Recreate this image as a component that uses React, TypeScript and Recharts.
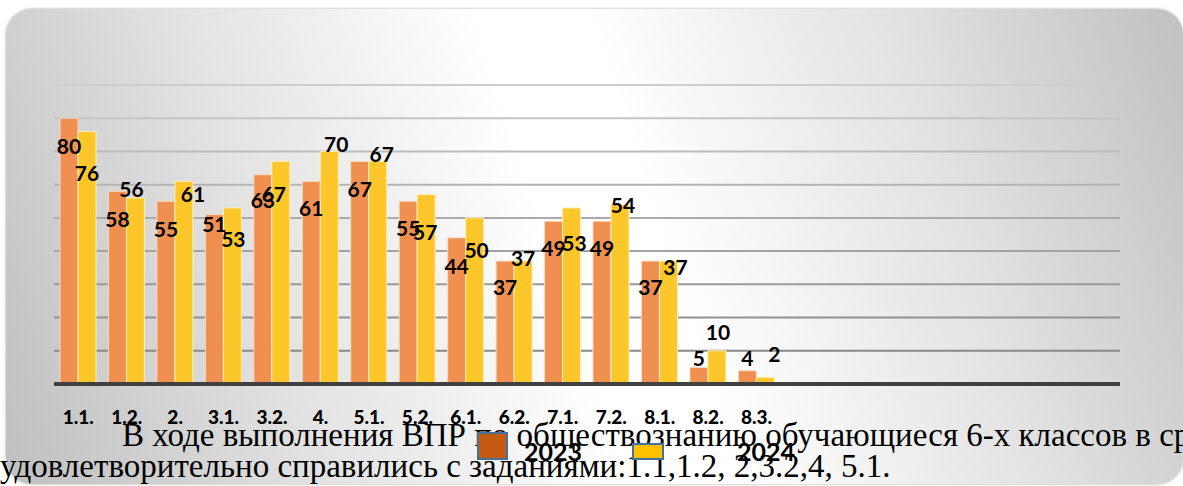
import { Bar, BarChart, CartesianGrid, LabelList, Legend, XAxis, YAxis } from 'recharts';

const tasks = ['1.1.', '1.2.', '2.', '3.1.', '3.2.', '4.', '5.1.', '5.2.', '6.1.', '6.2.', '7.1.', '7.2.', '8.1.', '8.2.', '8.3.'];
// empty slots on the right of the axis
const blankSlots = ['', '', '', '', '', '', ''];
const values2023 = [80, 58, 55, 51, 63, 61, 67, 55, 44, 37, 49, 49, 37, 5, 4];
const values2024 = [76, 56, 61, 53, 67, 70, 67, 57, 50, 37, 53, 54, 37, 10, 2];
const yTicks = [0, 10, 20, 30, 40, 50, 60, 70, 80, 90];

// label nudges (px from bar top / bar centre), the labels were dragged by hand in the original
const nudge2023 = [28, 28, 28, 10, 26, 27, 28, 27, 29, 26, 27, 27, 26, -9, -12];
const nudge2024 = [42, -9, 13, 32, 33, -7, -7, 38, 33, -3, 36, 1, 6, -18, -23];
const shift2024 = [0, -4, 9, 1, -7, 7, 4, -1, 2, 0, 3, 3, 7, 1, 9];

const rows = [...tasks, ...blankSlots].map((task, i) => ({
  task,
  y2023: i < values2023.length ? values2023[i] : null,
  y2024: i < values2024.length ? values2024[i] : null
}));

const labelFont = { fontFamily: 'Lato', fontWeight: 700 };
const serif = '"Liberation Serif", "Times New Roman", serif';

function makeLabel(dyList: number[], dxList: number[] | null) {
  return (props: any) => {
    const { x, y, width, value, index } = props;
    if (value == null) return null;
    const cx = Number(x) + Number(width) / 2 + (dxList ? dxList[index] ?? 0 : 0);
    const cy = Number(y) + (dyList[index] ?? 0);
    return (
      <text x={cx} y={cy} dy="0.36em" textAnchor="middle" fill="#000" style={{ ...labelFont, fontSize: 21 }}>
        {value}
      </text>
    );
  };
}

function TaskTick(props: any) {
  const { x, y, payload } = props;
  if (!payload?.value) return null;
  return (
    <text x={x} y={y} textAnchor="middle" fill="#000" style={{ fontFamily: 'Lato', fontWeight: 900, fontSize: 19 }}>
      {payload.value}
    </text>
  );
}

function LegendBox() {
  return (
    <div style={{ position: 'relative', height: 0, width: 0 }}>
      <div style={{ position: 'absolute', left: 477, top: 432, width: 27, height: 24, background: '#C55A11', border: '2px solid #41719C' }} />
      <div style={{ position: 'absolute', left: 524, top: 439, fontSize: 25, lineHeight: '25px', ...labelFont, color: '#000' }}>2023</div>
      <div style={{ position: 'absolute', left: 632, top: 443, width: 28, height: 13, background: '#FFC000', border: '2px solid #41719C' }} />
      <div style={{ position: 'absolute', left: 737, top: 439, fontSize: 25, lineHeight: '25px', ...labelFont, color: '#000' }}>2024</div>
    </div>
  );
}

export default function App() {
  return (
    <div style={{ position: 'absolute', left: 0, top: 0, width: 1183, height: 486, overflow: 'hidden', background: '#fff' }}>
      <div
        style={{
          position: 'absolute',
          left: 6,
          top: 9,
          width: 1177,
          height: 475,
          borderRadius: 26,
          background: 'linear-gradient(72deg, #bfbfbf 0%, #e2e2e2 24%, #ffffff 47%, #ffffff 55%, #e2e2e2 78%, #c1c1c1 100%)',
          boxShadow: '0 0 3px rgba(0,0,0,0.35)'
        }}
      />
      <div style={{ position: 'absolute', left: 122, top: 419, fontFamily: serif, fontSize: 33, lineHeight: '33px', whiteSpace: 'nowrap', color: '#000' }}>
        В ходе выполнения ВПР по обществознанию обучающиеся 6-х классов в среднем
      </div>
      <div style={{ position: 'absolute', left: 0, top: 450, fontFamily: serif, fontSize: 33, lineHeight: '33px', whiteSpace: 'nowrap', color: '#000' }}>
        удовлетворительно справились с заданиями:1.1,1.2, 2,3.2,4, 5.1.
      </div>
      <div style={{ position: 'absolute', left: 0, top: 0 }}>
        <BarChart width={1183} height={486} data={rows} margin={{ top: 85, right: 63, bottom: 72, left: 54 }} barSize={18} barGap={0}>
          <defs>
            <linearGradient id="gridFade" gradientUnits="userSpaceOnUse" x1="0" y1="85" x2="0" y2="384">
              <stop offset="0%" stopColor="#cdcdcd" />
              <stop offset="100%" stopColor="#808080" />
            </linearGradient>
          </defs>
          <CartesianGrid vertical={false} stroke="url(#gridFade)" strokeWidth={2} />
          <XAxis
            dataKey="task"
            height={30}
            tickLine={false}
            tickSize={0}
            tickMargin={40}
            axisLine={{ stroke: '#404040', strokeWidth: 4 }}
            tick={<TaskTick />}
            interval={0}
          />
          <YAxis hide domain={[0, 90]} ticks={yTicks} />
          <Legend verticalAlign="top" content={() => <LegendBox />} wrapperStyle={{ left: 0, top: 0, width: 0, height: 0 }} />
          <Bar dataKey="y2023" name="2023" fill="#EF8F50" stroke="#f9dcc6" strokeWidth={1} isAnimationActive={false}>
            <LabelList dataKey="y2023" content={makeLabel(nudge2023, null)} />
          </Bar>
          <Bar dataKey="y2024" name="2024" fill="#FDC62A" stroke="#fdefb8" strokeWidth={1} isAnimationActive={false}>
            <LabelList dataKey="y2024" content={makeLabel(nudge2024, shift2024)} />
          </Bar>
        </BarChart>
      </div>
    </div>
  );
}
